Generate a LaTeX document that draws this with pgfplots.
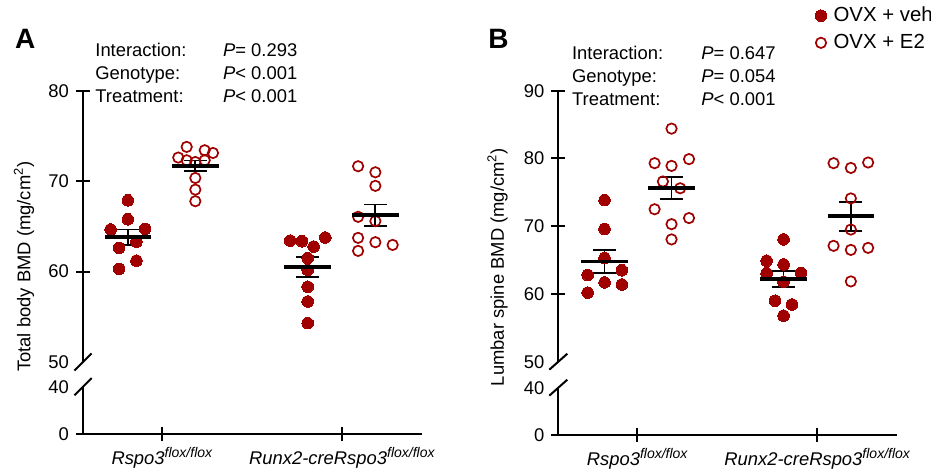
\documentclass[border=0pt]{standalone}
\usepackage{fontspec}
\setmainfont{Liberation Sans}
\usepackage{pgfplots}
\pgfplotsset{compat=1.18}
\definecolor{dred}{RGB}{160,0,0}
\newcommand{\fs}{\fontsize{9.2}{11}\selectfont}
\newcommand{\flsup}[1]{{\fontsize{7}{8}\selectfont\raisebox{0.5em}{\textit{#1}}}}
\pgfplotsset{
  brk/.style={scale only axis, width=169.5pt, xmin=0.561, xmax=2.444, clip=false,
    axis line style={-, line width=1pt, black}, tick style={line width=1pt, black},
    major tick length=7pt, tick align=outside,
    /pgf/number format/assume math mode=true, ticklabel style={font=\fs}},
  noarrows/.style={every outer y axis line/.append style={-}, every outer x axis line/.append style={-},
    every inner y axis line/.append style={-}, every inner x axis line/.append style={-}},
  upper/.style={brk, axis x line=none, axis y line=left, noarrows, ymin=50, ymax=#1, height=135.5pt,
    extra y ticks={50}, extra y tick style={tick style={draw=none}}},
  lower/.style={brk, axis x line=bottom, axis y line=left, noarrows, ymin=0, ymax=40, height=23.8pt,
    ytick={0}, extra y ticks={40}, extra y tick style={tick style={draw=none}},
    xtick={1,2}, xticklabel style={yshift=0.5pt},
    xticklabels={{\textit{Rspo3}\flsup{flox/flox}},{\textit{Runx2-creRspo3}\flsup{flox/flox}}}},
  veh/.style={only marks, mark=*, mark size=2.9pt, color=dred, mark options={fill=dred, draw=dred, line width=0pt}},
  etwo/.style={only marks, mark=o, mark size=2.6pt, color=dred, mark options={draw=dred, line width=0.85pt}},
  meanplot/.style={black, only marks, mark=-, mark size=11.65pt, mark options={line width=1.9pt},
    /pgfplots/error bars/y dir=both, /pgfplots/error bars/y explicit,
    /pgfplots/error bars/error bar style={line width=0.9pt, black},
    /pgfplots/error bars/error mark options={rotate=90, mark size=5.8pt, line width=0.9pt, black}},
}
\begin{document}
\begin{tikzpicture}
\path[use as bounding box] (0,0) rectangle (465.5pt,235pt);
% ---------------- Panel A ----------------
\begin{axis}[upper=80, name=upA, at={(41.5pt,54pt)}, anchor=south west, ytick={60,70,80}]
\addplot[veh] coordinates {(0.81,67.9) (0.81,65.8) (0.714,64.67) (0.906,64.74) (0.858,63.33) (0.762,62.63) (0.858,61.22) (0.762,60.3)};
\addplot[etwo] coordinates {(1.137,73.81) (1.237,73.44) (1.283,73.14) (1.09,72.63) (1.137,72.33) (1.185,72.14) (1.237,72.33) (1.185,70.37) (1.185,69.08) (1.185,67.8)};
\addplot[veh] coordinates {(1.712,63.44) (1.777,63.37) (1.842,62.78) (1.907,63.78) (1.809,61.5) (1.809,60.2) (1.809,58.33) (1.809,56.7) (1.809,54.3)};
\addplot[etwo] coordinates {(2.089,71.67) (2.185,71.0) (2.185,69.5) (2.089,66.07) (2.185,65.6) (2.089,63.74) (2.185,63.26) (2.281,62.96) (2.089,62.3)};
\addplot[meanplot] coordinates {(0.81,63.82) +- (0,0.85) (1.185,71.7) +- (0,0.6) (1.809,60.49) +- (0,1.1) (2.185,66.23) +- (0,1.2)};
\end{axis}
\begin{axis}[lower, name=loA, at={(41.5pt,17.85pt)}, anchor=south west]
\end{axis}
\draw[line width=1pt] ([xshift=-4.3pt,yshift=-4.3pt]upA.south west) -- ([xshift=4.3pt,yshift=4.3pt]upA.south west);
\draw[line width=1pt] ([xshift=-4.3pt,yshift=-4.3pt]loA.north west) -- ([xshift=4.3pt,yshift=4.3pt]loA.north west);
\node[anchor=base west, inner sep=0pt, font=\fontsize{14}{15}\selectfont\bfseries] at (7.3pt,210.85pt) {A};
\node[rotate=90, font=\fs] at (12pt,101.75pt) {Total body BMD (mg/cm\textsuperscript{2})};
\node[anchor=base west, inner sep=0pt, font=\fs] at (47.5pt,206.5pt) {Interaction:};
\node[anchor=base west, inner sep=0pt, font=\fs] at (47.5pt,195pt) {Genotype:};
\node[anchor=base west, inner sep=0pt, font=\fs] at (47.5pt,183.5pt) {Treatment:};
\node[anchor=base west, inner sep=0pt, font=\fs] at (111.35pt,206.5pt) {\textit{P}= 0.293};
\node[anchor=base west, inner sep=0pt, font=\fs] at (111.35pt,195pt) {\textit{P}< 0.001};
\node[anchor=base west, inner sep=0pt, font=\fs] at (111.35pt,183.5pt) {\textit{P}< 0.001};
% ---------------- Panel B ----------------
\begin{axis}[upper=90, name=upB, at={(279.15pt,54.15pt)}, anchor=south west, ytick={60,70,80,90},
  legend style={at={(axis description cs:0.756,1.322)}, anchor=north west, draw=none, fill=none,
    font=\fontsize{10.2}{12}\selectfont, row sep=1.8pt, inner sep=0pt, nodes={inner sep=1.5pt}},
  legend cell align=left,
  legend image code/.code={\path (0pt,0pt) (7.4pt,0pt); \draw[#1] plot coordinates {(2.8pt,0pt)};}]
\addplot[veh] coordinates {(0.818,73.85) (0.818,69.6) (0.818,65.3) (0.724,62.8) (0.914,63.5) (0.818,61.7) (0.914,61.4) (0.724,60.2)};
\addlegendentry{OVX + veh}
\addplot[etwo] coordinates {(1.19,84.4) (1.287,79.9) (1.096,79.3) (1.19,78.9) (1.142,76.6) (1.238,75.6) (1.096,72.5) (1.287,71.2) (1.19,70.3) (1.19,68.05)};
\addlegendentry{OVX + E2}
\addplot[veh, forget plot] coordinates {(1.812,68.05) (1.718,64.9) (1.812,64.35) (1.718,63.07) (1.909,63.07) (1.812,61.8) (1.765,59.0) (1.859,58.45) (1.812,56.8)};
\addplot[etwo, forget plot] coordinates {(2.09,79.3) (2.186,78.6) (2.282,79.4) (2.186,74.1) (2.186,69.5) (2.09,67.1) (2.186,66.5) (2.282,66.8) (2.186,61.85)};
\addplot[forget plot, meanplot] coordinates {(0.818,64.8) +- (0,1.69) (1.19,75.65) +- (0,1.63) (1.812,62.17) +- (0,1.2) (2.186,71.46) +- (0,2.15)};
\end{axis}
\begin{axis}[lower, name=loB, at={(279.15pt,17.5pt)}, anchor=south west, height=23.65pt]
\end{axis}
\draw[line width=1pt] ([xshift=-4.5pt,yshift=-4pt]upB.south west) -- ([xshift=4.5pt,yshift=4pt]upB.south west);
\draw[line width=1pt] ([xshift=-4.5pt,yshift=-4pt]loB.north west) -- ([xshift=4.5pt,yshift=4pt]loB.north west);
\node[anchor=base west, inner sep=0pt, font=\fontsize{14}{15}\selectfont\bfseries] at (244pt,210.85pt) {B};
\node[rotate=90, font=\fs] at (248.75pt,101.5pt) {Lumbar spine BMD (mg/cm\textsuperscript{2})};
\node[anchor=base west, inner sep=0pt, font=\fs] at (285.85pt,205.35pt) {Interaction:};
\node[anchor=base west, inner sep=0pt, font=\fs] at (285.85pt,193.75pt) {Genotype:};
\node[anchor=base west, inner sep=0pt, font=\fs] at (285.85pt,182.25pt) {Treatment:};
\node[anchor=base west, inner sep=0pt, font=\fs] at (350.5pt,205.35pt) {\textit{P}= 0.647};
\node[anchor=base west, inner sep=0pt, font=\fs] at (350.5pt,193.75pt) {\textit{P}= 0.054};
\node[anchor=base west, inner sep=0pt, font=\fs] at (350.5pt,182.25pt) {\textit{P}< 0.001};
\end{tikzpicture}
\end{document}
